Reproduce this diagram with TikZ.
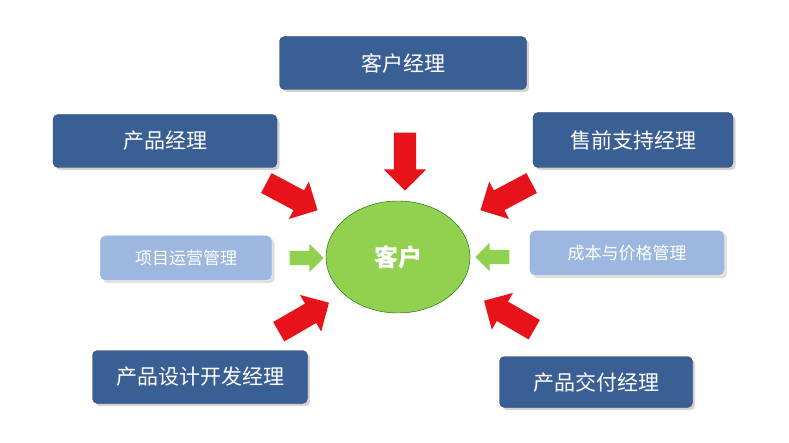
\documentclass[tikz,border=0pt]{standalone}
\usepackage{fontspec}
\setmainfont{Noto Sans CJK SC}
\usetikzlibrary{shapes.arrows,shapes.geometric,shadows}
\definecolor{darkbox}{HTML}{3A5F94}
\definecolor{lightbox}{HTML}{9DB8E0}
\definecolor{redarr}{HTML}{E8121A}
\definecolor{greenarr}{HTML}{92D050}
\tikzset{
  rolebox/.style={draw=darkbox!70!black,fill=darkbox,rounded corners=5pt,text=white,
    font=\fontsize{21}{24}\selectfont,drop shadow={opacity=.35}},
  softbox/.style={draw=white,fill=lightbox,rounded corners=5pt,text=white,
    font=\fontsize{17}{20}\selectfont,drop shadow={opacity=.25}},
  redtip/.style={single arrow,fill=redarr,draw=none,minimum height=58pt,
    minimum width=42pt,inner sep=11pt,single arrow head extend=10pt},
  greentip/.style={redtip,fill=greenarr,minimum height=34pt,minimum width=28pt,
    inner sep=7pt,single arrow head extend=7pt}
}
\begin{document}
\begin{tikzpicture}[x=1pt,y=-1pt]
\useasboundingbox (0,0) rectangle (789,443);
\node[rolebox,minimum width=247pt,minimum height=53pt] (kh) at (403,63) {客户经理};
\node[rolebox,minimum width=224pt,minimum height=53pt] (cp) at (165,141) {产品经理};
\node[rolebox,minimum width=200pt,minimum height=55pt] (sq) at (633,140) {售前支持经理};
\node[softbox,minimum width=172pt,minimum height=45pt] (xm) at (186,258) {项目运营管理};
\node[softbox,minimum width=195pt,minimum height=45pt] (cb) at (627,253) {成本与价格管理};
\node[rolebox,minimum width=215pt,minimum height=53pt] (sj) at (200,377) {产品设计开发经理};
\node[rolebox,minimum width=193pt,minimum height=51pt] (jf) at (596,382) {产品交付经理};
\node[ellipse,draw=green!40!black,fill=greenarr,minimum width=144pt,minimum height=112pt,
  text=white,font=\fontsize{24}{28}\selectfont\bfseries] (kehu) at (398,257) {客户};
% arrows towards the client
\node[redtip,rotate=-90] (a1) at (405,156) {};
\node[redtip,rotate=-28] (a2) at (287,194) {};
\node[redtip,rotate=-152] (a3) at (511,194) {};
\node[greentip] (a4) at (303,258) {};
\node[greentip,rotate=180] (a5) at (496,257) {};
\node[redtip,rotate=30] (a6) at (299,320) {};
\node[redtip,rotate=150] (a7) at (514,318) {};
\end{tikzpicture}
\end{document}
